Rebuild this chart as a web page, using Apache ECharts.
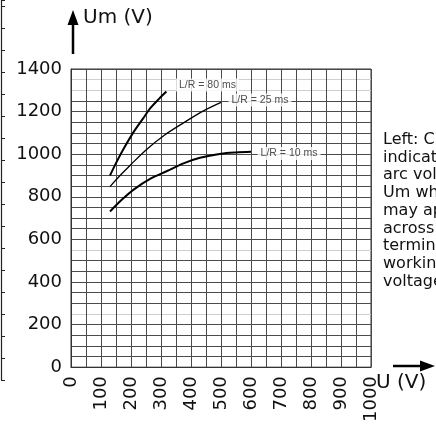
<!DOCTYPE html>
<html>
<head>
<meta charset="utf-8">
<script src="https://cdn.jsdelivr.net/npm/echarts@6/dist/echarts.min.js"></script>
<style>
html,body{margin:0;padding:0;background:#fff;}
#chart{width:436px;height:425px;}
</style>
</head>
<body>
<div id="chart"></div>
<script>
// ---- data ----
const curve80 = [[130,900],[150,958],[175,1024],[210,1107],[240,1167],[265,1217],[295,1262],[318,1294]];
const curve25 = [[130,848],[165,902],[200,952],[250,1020],[310,1088],[375,1147],[440,1202],[500,1243]];
const curve10 = [[130,731],[170,787],[210,835],[265,885],[320,921],[375,957],[430,983],[500,1002],[550,1008],[600,1011]];
const curveNames = ['L/R = 80 ms','L/R = 25 ms','L/R = 10 ms'];
const labelAnchors = [[350,1325],[525,1255],[622,1003]];
const xTicks = [0,100,200,300,400,500,600,700,800,900,1000];
const yTicks = [0,200,400,600,800,1000,1200,1400];
const sideText = ['Left: Curves','indicating the','arc voltage','Um which','may appear','across the','terminals at','working','voltage'];

// ---- styling helpers ----
const gridCol = '#4a4a4a';
const fadedCol = '#cfcfcf';
const fadedVals = [250,550,1300,1350];
const ySplitColors = [];
for (let v = 0; v <= 1400; v += 50) ySplitColors.push(fadedVals.indexOf(v) >= 0 ? fadedCol : gridCol);

const font = 'DejaVu Sans';
const chart = echarts.init(document.getElementById('chart'));

const lineStyleFor = (w) => ({color:'#000', width:w});

chart.setOption({
  animation:false,
  backgroundColor:'#fff',
  grid:[
    {left:71, top:69, width:300, height:300, show:true, borderColor:'#333', borderWidth:1},
    {left:1, top:0, width:1, height:380}
  ],
  xAxis:[
    {type:'value', min:0, max:1000, interval:50, gridIndex:0,
     axisLine:{show:true, lineStyle:{color:'#333'}}, axisTick:{show:false},
     splitLine:{show:true, lineStyle:{color:gridCol, width:1}},
     axisLabel:{rotate:90, margin:9, fontFamily:font, fontSize:18, color:'#111',
       formatter:(v)=> xTicks.indexOf(v) >= 0 ? String(v) : ''}},
    {type:'value', min:0, max:1, gridIndex:1, show:false}
  ],
  yAxis:[
    {type:'value', min:0, max:1400, interval:50, gridIndex:0,
     axisLine:{show:true, lineStyle:{color:'#333'}}, axisTick:{show:false},
     splitLine:{show:true, lineStyle:{color:ySplitColors, width:1}},
     axisLabel:{margin:9, fontFamily:font, fontSize:18, color:'#111',
       formatter:(v)=> yTicks.indexOf(v) >= 0 ? String(v) : ''}},
    {type:'value', min:0, max:17.27, interval:1, gridIndex:1,
     axisLine:{show:true, lineStyle:{color:'#222', width:1.2}},
     axisTick:{show:true, inside:true, length:4, lineStyle:{color:'#222'}},
     axisLabel:{show:false}, splitLine:{show:false}}
  ],
  series:[
    {type:'line', data:curve80, smooth:0.3, symbol:'none', lineStyle:lineStyleFor(2), z:3},
    {type:'line', data:curve25, smooth:0.3, symbol:'none', lineStyle:lineStyleFor(1.3), z:3},
    {type:'line', data:curve10, smooth:0.3, symbol:'none', lineStyle:lineStyleFor(2), z:3},
    {type:'scatter', symbolSize:0, z:4,
     data:labelAnchors.map((p,i)=>({value:p, name:curveNames[i]})),
     label:{show:true, position:'right', distance:0, formatter:(p)=>p.name,
       fontFamily:'Liberation Sans', fontSize:10.5, color:'#222',
       backgroundColor:'#fff', padding:[1,3]}}
  ],
  graphic:[
    {type:'line', shape:{x1:73, y1:54, x2:73, y2:22}, style:{stroke:'#000', lineWidth:2.5}},
    {type:'polygon', shape:{points:[[67.5,25],[78.5,25],[73,10]]}, style:{fill:'#000'}},
    {type:'text', left:83, top:8, style:{text:'Um (V)', fontFamily:font, fontSize:20, fill:'#111'}},
    {type:'line', shape:{x1:393, y1:366, x2:423, y2:366}, style:{stroke:'#000', lineWidth:2.5}},
    {type:'polygon', shape:{points:[[420,360.5],[420,371.5],[435,366]]}, style:{fill:'#000'}},
    {type:'text', left:376, top:373, style:{text:'U (V)', fontFamily:font, fontSize:20, fill:'#111'}},
    {type:'text', left:383, top:131, style:{text:sideText.join('\n'), fontFamily:font, fontSize:16, lineHeight:17.7, fill:'#111'}}
  ]
});
</script>
</body>
</html>
